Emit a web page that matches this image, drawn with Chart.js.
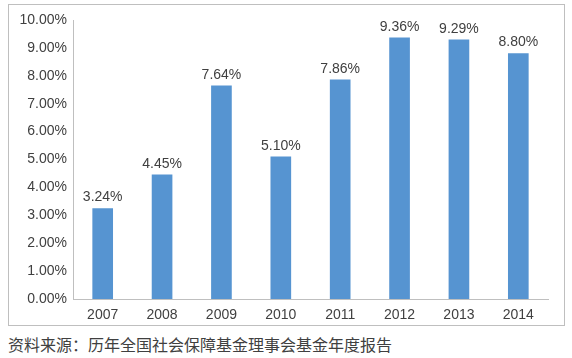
<!DOCTYPE html>
<html>
<head>
<meta charset="utf-8">
<script src="https://cdn.jsdelivr.net/npm/chart.js@4"></script>
<style>
  body { margin: 0; background: #fff; width: 572px; height: 358px; position: relative; overflow: hidden; }
  .frame { position: absolute; left: 8px; top: 4px; width: 555px; height: 320px; border: 1px solid #bfbfbf; }
  .source { position: absolute; left: 8px; top: 334px; font: 16px "Noto Sans CJK SC", sans-serif; color: #404040; line-height: 20px; }
</style>
</head>
<body>
<div class="frame"><canvas id="c" width="555" height="320"></canvas></div>
<div class="source">资料来源：历年全国社会保障基金理事会基金年度报告</div>
<script>
const years = ['2007', '2008', '2009', '2010', '2011', '2012', '2013', '2014'];
const rates = [3.24, 4.45, 7.64, 5.10, 7.86, 9.36, 9.29, 8.80];
const fontFamily = '"Liberation Sans", Arial, sans-serif';

const barLabels = {
  id: 'barLabels',
  afterDatasetsDraw(chart) {
    const { ctx } = chart;
    const meta = chart.getDatasetMeta(0);
    ctx.save();
    ctx.font = `14px ${fontFamily}`;
    ctx.fillStyle = '#404040';
    ctx.textAlign = 'center';
    ctx.textBaseline = 'middle';
    meta.data.forEach((bar, i) => {
      ctx.fillText(rates[i].toFixed(2) + '%', bar.x, bar.y - 11);
    });
    ctx.restore();
  },
};

new Chart(document.getElementById('c'), {
  type: 'bar',
  data: {
    labels: years,
    datasets: [
      {
        data: rates,
        backgroundColor: '#5694d1',
        barThickness: 20,
      },
    ],
  },
  options: {
    responsive: false,
    animation: false,
    layout: { padding: { top: 15, right: 16, left: 0, bottom: 0 } },
    plugins: { legend: { display: false }, tooltip: { enabled: false } },
    scales: {
      y: {
        min: 0,
        max: 10,
        ticks: {
          stepSize: 1,
          padding: 6,
          color: '#404040',
          font: { family: fontFamily, size: 14 },
          callback: (value) => Number(value).toFixed(2) + '%',
        },
        grid: { display: false, drawTicks: false },
        border: { color: '#bfbfbf' },
        afterFit: (scale) => { scale.width = 64; },
      },
      x: {
        ticks: {
          padding: 8,
          color: '#404040',
          font: { family: fontFamily, size: 14 },
        },
        grid: { display: false, drawTicks: false },
        border: { color: '#bfbfbf' },
        afterFit: (scale) => { scale.height = 26; },
      },
    },
  },
  plugins: [barLabels],
});
</script>
</body>
</html>
